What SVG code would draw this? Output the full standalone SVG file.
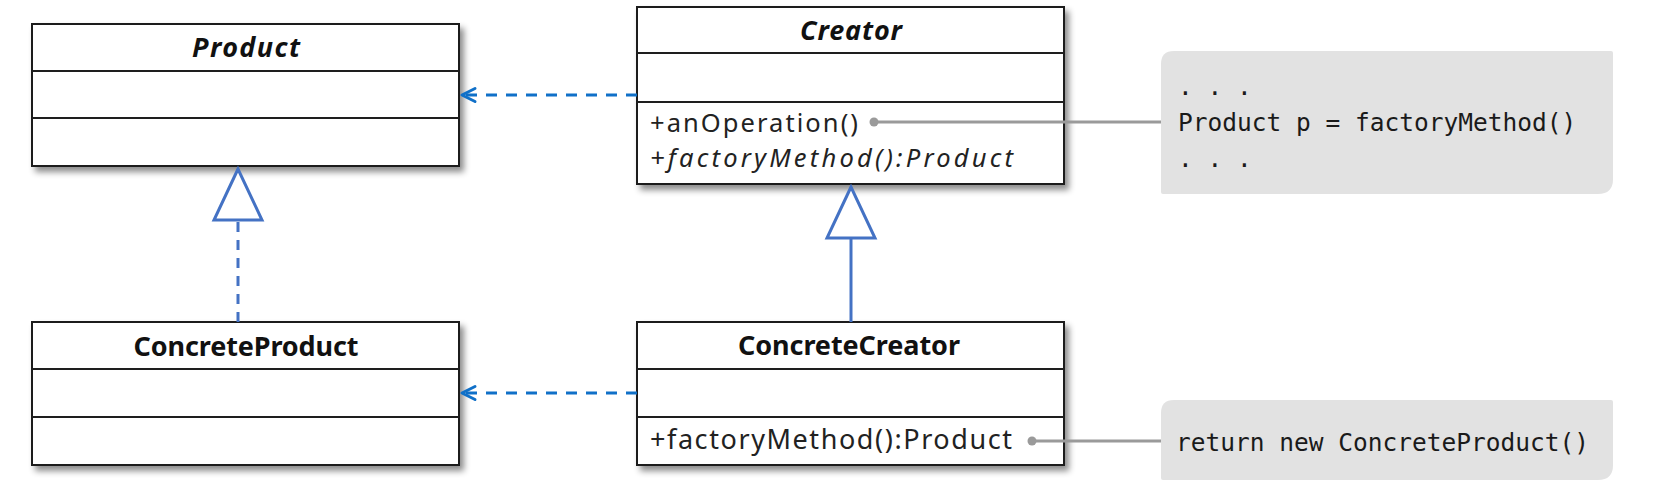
<svg xmlns="http://www.w3.org/2000/svg" width="1680" height="494" viewBox="0 0 1680 494">
<style>
.box{fill:#fff;stroke:#1e1e1e;stroke-width:2;filter:url(#sh)}
.div{stroke:#1e1e1e;stroke-width:2}
.title{font-family:"Noto Sans","DejaVu Sans",sans-serif;font-size:27px;font-weight:bold;fill:#111;text-anchor:middle}
.abs{font-style:italic}
.op{font-family:"Noto Sans","DejaVu Sans",sans-serif;font-size:27px;fill:#222}
.op2{font-family:"Noto Sans","DejaVu Sans",sans-serif;font-size:25.5px;fill:#222}
.code{font-family:"DejaVu Sans Mono","Liberation Mono",monospace;font-size:24.5px;fill:#1a1a1a}
.note{fill:#e2e2e2}
.dep{stroke:#1070c8;stroke-width:3;stroke-dasharray:11 9;fill:none;marker-end:url(#open)}
.real{stroke:#4472c4;stroke-width:3;stroke-dasharray:10 8;fill:none;marker-end:url(#tri)}
.gen{stroke:#4472c4;stroke-width:3;fill:none;marker-end:url(#tri)}
.lnk{stroke:#9a9a9a;stroke-width:3;fill:none}
.dot{fill:#9a9a9a}
</style>
<defs>
<filter id="sh" x="-5%" y="-5%" width="115%" height="125%">
<feDropShadow dx="4" dy="5" stdDeviation="3" flood-color="#000" flood-opacity="0.45"/>
</filter>
<marker id="open" markerUnits="userSpaceOnUse" viewBox="0 0 16 16" refX="14" refY="8" markerWidth="16" markerHeight="16" orient="auto" overflow="visible">
<path d="M1,1.5 L14,8 L1,14.5" fill="none" stroke="#1070c8" stroke-width="3" stroke-linecap="round" stroke-linejoin="round"/>
</marker>
<marker id="tri" markerUnits="userSpaceOnUse" viewBox="0 0 52 48" refX="51" refY="24" markerWidth="52" markerHeight="48" orient="auto" overflow="visible">
<path d="M51,24 L0,0 L0,48 Z" fill="#fff" stroke="#4472c4" stroke-width="3" stroke-linejoin="miter"/>
</marker>
</defs>
<rect width="1680" height="494" fill="#fff"/>

<g id="Product">
<rect class="box" x="32" y="24" width="427" height="142"/>
<line class="div" x1="32" y1="71" x2="459" y2="71"/>
<line class="div" x1="32" y1="118" x2="459" y2="118"/>
<text class="title abs" x="246" y="57" textLength="108">Product</text>
</g>

<g id="Creator">
<rect class="box" x="637" y="7" width="427" height="177"/>
<line class="div" x1="637" y1="53" x2="1064" y2="53"/>
<line class="div" x1="637" y1="102" x2="1064" y2="102"/>
<text class="title abs" x="851" y="40" textLength="102">Creator</text>
<text class="op2" x="650" y="132" textLength="208">+anOperation()</text>
<text class="op2 abs" x="650" y="167" textLength="363">+factoryMethod():Product</text>
</g>

<g id="ConcreteProduct">
<rect class="box" x="32" y="322" width="427" height="143"/>
<line class="div" x1="32" y1="369" x2="459" y2="369"/>
<line class="div" x1="32" y1="417" x2="459" y2="417"/>
<text class="title" x="246" y="356" textLength="225">ConcreteProduct</text>
</g>

<g id="ConcreteCreator">
<rect class="box" x="637" y="322" width="427" height="143"/>
<line class="div" x1="637" y1="369" x2="1064" y2="369"/>
<line class="div" x1="637" y1="417" x2="1064" y2="417"/>
<text class="title" x="849" y="355" textLength="222">ConcreteCreator</text>
<text class="op" x="650" y="449" textLength="362">+factoryMethod():Product</text>
</g>

<g id="Note1">
<path class="note" d="M1174,51 H1611 Q1613,51 1613,53 V179 Q1613,194 1598,194 H1163 Q1161,194 1161,192 V64 Q1161,51 1174,51 Z"/>
<text class="code" x="1178" y="95">. . .</text>
<text class="code" x="1178" y="131">Product p = factoryMethod()</text>
<text class="code" x="1178" y="167">. . .</text>
</g>

<g id="Note2">
<path class="note" d="M1174,400 H1611 Q1613,400 1613,402 V465 Q1613,480 1598,480 H1163 Q1161,480 1161,478 V413 Q1161,400 1174,400 Z"/>
<text class="code" x="1176" y="451">return new ConcreteProduct()</text>
</g>

<g id="connectors">
<line class="dep" x1="637" y1="95" x2="462" y2="95"/>
<line class="dep" x1="637" y1="393" x2="462" y2="393"/>
<line class="real" x1="238" y1="322" x2="238" y2="169"/>
<line class="gen" x1="851" y1="322" x2="851" y2="187"/>
<line class="lnk" x1="874" y1="122" x2="1161" y2="122"/>
<circle class="dot" cx="874" cy="122" r="4.5"/>
<line class="lnk" x1="1032" y1="441" x2="1161" y2="441"/>
<circle class="dot" cx="1032" cy="441" r="4.5"/>
</g>
</svg>
